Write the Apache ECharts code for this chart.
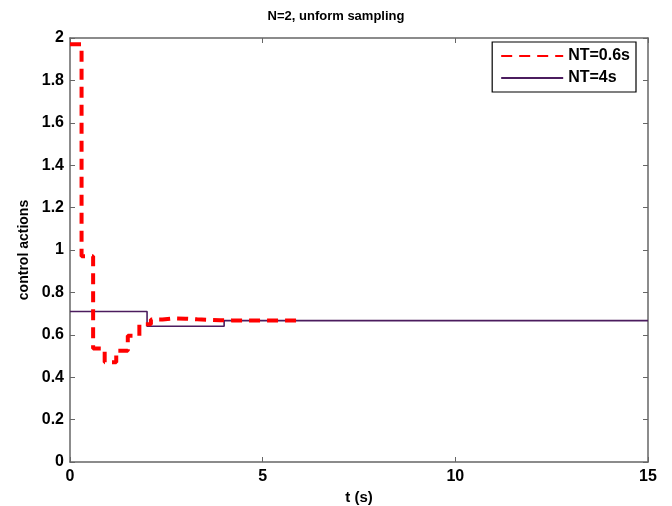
<!DOCTYPE html>
<html>
<head>
<meta charset="utf-8">
<script src="https://cdn.jsdelivr.net/npm/echarts@6/dist/echarts.min.js"></script>
<style>
  html, body { margin: 0; padding: 0; background: #fff; }
  #chart { width: 672px; height: 506px; }
</style>
</head>
<body>
<div id="chart"></div>
<script>
// sample instants and held values (zero-order hold)
const tFast = [0, 0.3, 0.6, 0.9, 1.2, 1.5, 1.8, 2.1, 2.4, 2.7, 3.0, 3.3, 3.6, 3.9, 4.2, 4.5, 4.8, 5.1, 5.4, 5.7, 6.0]
const uFast = [1.97, 0.97, 0.535, 0.47, 0.525, 0.595, 0.65, 0.672, 0.678, 0.676, 0.673, 0.671, 0.669, 0.668, 0.668, 0.667, 0.667, 0.667, 0.667, 0.667, 0.667]
const tSlow = [0, 2, 4, 15]
const uSlow = [0.71, 0.64, 0.667, 0.667]

const pairs = (t, u) => t.map((v, i) => [v, u[i]])

const font = 'Liberation Sans, Arial, sans-serif'
const axisGray = '#666666'

// box axes (top / right) only draw line and ticks
const boxAxis = (extra) => Object.assign({
    type: 'value',
    axisLine: { show: true, onZero: false, lineStyle: { color: axisGray, width: 1.5 } },
    axisTick: { show: true, inside: true, length: 5, lineStyle: { color: axisGray } },
    axisLabel: { show: false },
    splitLine: { show: false }
}, extra)

const chart = echarts.init(document.getElementById('chart'))
const option = {
    animation: false,
    title: {
        text: 'N=2, unform sampling',
        left: 'center',
        top: 5,
        textStyle: { fontFamily: font, fontSize: 13, fontWeight: 'bold', color: '#000' }
    },
    legend: {
        right: 36,
        top: 42,
        orient: 'vertical',
        itemWidth: 62,
        itemHeight: 12,
        itemGap: 6,
        padding: [6, 6, 6, 8],
        borderColor: '#000',
        borderWidth: 1.2,
        backgroundColor: '#fff',
        itemStyle: { opacity: 0 },
        textStyle: { fontFamily: font, fontSize: 16, fontWeight: 'bold', color: '#000' },
        data: ['NT=0.6s', 'NT=4s']
    },
    grid: { left: 70, right: 24, top: 38, bottom: 44, show: false, outerBoundsMode: 'none' },
    xAxis: [{
        type: 'value', min: 0, max: 15, interval: 5,
        name: 't (s)', nameLocation: 'middle', nameGap: 26,
        nameTextStyle: { fontFamily: font, fontSize: 15, fontWeight: 'bold', color: '#000' },
        axisLine: { show: true, onZero: false, lineStyle: { color: axisGray, width: 1.5 } },
        axisTick: { show: true, inside: true, length: 5, lineStyle: { color: axisGray } },
        axisLabel: { fontFamily: font, fontSize: 16, fontWeight: 'bold', color: '#000', margin: 7 },
        splitLine: { show: false }
    }, boxAxis({ min: 0, max: 15, interval: 5, position: 'top' })],
    yAxis: [{
        type: 'value', min: 0, max: 2, interval: 0.2,
        name: 'control actions', nameLocation: 'middle', nameGap: 35,
        nameTextStyle: { fontFamily: font, fontSize: 14, fontWeight: 'bold', color: '#000' },
        axisLine: { show: true, onZero: false, lineStyle: { color: axisGray, width: 1.5 } },
        axisTick: { show: true, inside: true, length: 5, lineStyle: { color: axisGray } },
        axisLabel: {
            fontFamily: font, fontSize: 16, fontWeight: 'bold', color: '#000', margin: 6,
            formatter: v => String(+v.toFixed(1))
        },
        splitLine: { show: false }
    }, boxAxis({ min: 0, max: 2, interval: 0.2, position: 'right' })],
    series: [{
        name: 'NT=0.6s',
        type: 'line',
        step: 'end',
        symbol: 'none',
        color: '#ff0000',
        lineStyle: { color: '#ff0000', width: 4, type: [11, 7] },
        data: pairs(tFast, uFast),
        z: 3
    }, {
        name: 'NT=4s',
        type: 'line',
        step: 'end',
        symbol: 'none',
        color: '#4b1c5e',
        lineStyle: { color: '#4b1c5e', width: 1.6 },
        data: pairs(tSlow, uSlow),
        z: 2
    }]
}
chart.setOption(option)
</script>
</body>
</html>
